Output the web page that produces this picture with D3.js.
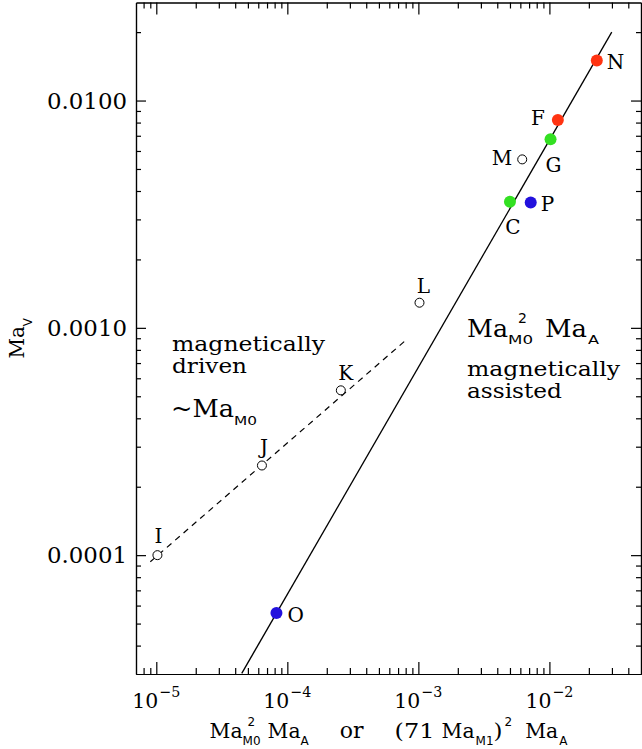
<!DOCTYPE html>
<html>
<head>
<meta charset="utf-8">
<script src="https://cdn.jsdelivr.net/npm/d3@7"></script>
<style>
  body { margin: 0; background: #fff; }
  svg { display: block; }
</style>
</head>
<body>
<svg width="642" height="749"></svg>
<script>
// point data
const names = ['N', 'F', 'G', 'M', 'C', 'P', 'L', 'K', 'J', 'I', 'O']
const xVals = [0.0230, 0.0116, 0.0102, 0.0062, 0.0050, 0.0072, 0.00102, 0.000256, 0.000064, 0.0000102, 0.0000826]
const yVals = [0.0150, 0.00822, 0.00676, 0.00551, 0.00359, 0.00356, 0.00129, 0.000531, 0.000248, 0.0001, 0.0000556]
const kinds = ['red', 'red', 'green', 'open', 'green', 'blue', 'open', 'open', 'open', 'open', 'blue']

// the two scaling lines
const solidX = [4.49e-5, 0.0299], solidY = [3.02e-5, 0.0200]
const dashX = [9.0e-6, 7.8e-4], dashY = [9.35e-5, 8.7e-4]

// ticks
const xMajor = [1e-5, 1e-4, 1e-3, 1e-2]
const xExps = ['\u22125', '\u22124', '\u22123', '\u22122']
const yMajor = [1e-4, 1e-3, 1e-2]
const yLabels = ['0.0001', '0.0010', '0.0100']

const svg = d3.select('svg')
const serif = 'DejaVu Serif', sans = 'DejaVu Sans'

const L = 136, R = 641, T = 2.5, B = 674
const x = d3.scaleLog().domain([7e-6, 0.05]).range([L, R])
const y = d3.scaleLog().domain([3e-5, 0.027]).range([B, T])

const fill = { red: '#ff3311', green: '#33e022', blue: '#2211dd', open: '#fff' }

const minors = dom => {
    const out = []
    for (let e = -7; e <= 0; e++)
        for (let k = 2; k <= 9; k++) {
            const v = k * Math.pow(10, e)
            if (v > dom[0] * 1.0001 && v < dom[1] * 0.9999) out.push(v)
        }
    return out
}
const xMinor = minors(x.domain()), yMinor = minors(y.domain())

// axes, ticks pointing in, on all four sides
const axis = (gen, tr, vals, len) => svg.append('g')
    .attr('transform', tr)
    .call(gen.tickValues(vals).tickSizeInner(len).tickSizeOuter(0).tickFormat(''))
    .call(g => g.selectAll('path,line').attr('stroke-width', 1.2))

axis(d3.axisBottom(x), `translate(0,${B})`, xMajor, -12)
axis(d3.axisBottom(x), `translate(0,${B})`, xMinor, -6)
axis(d3.axisTop(x), `translate(0,${T})`, xMajor, -12)
axis(d3.axisTop(x), `translate(0,${T})`, xMinor, -6)
axis(d3.axisLeft(y), `translate(${L},0)`, yMajor, -10)
axis(d3.axisLeft(y), `translate(${L},0)`, yMinor, -5)
axis(d3.axisRight(y), `translate(${R},0)`, yMajor, -10)
axis(d3.axisRight(y), `translate(${R},0)`, yMinor, -5)

// text made of pieces: sub/superscripts, stacked scripts
const rich = (g, x0, y0, parts) => {
    let cx = x0, prevStart = x0
    parts.forEach(p => {
        const t = g.append('text')
            .attr('y', y0 + (p.dy || 0))
            .style('font-family', p.font || serif)
            .style('font-size', p.size + 'px')
            .text(p.t)
        if (p.w) t.attr('textLength', p.w).attr('lengthAdjust', 'spacingAndGlyphs')
        const start = (p.over ? prevStart : cx) + (p.dx || 0)
        t.attr('x', start)
        const w = p.w || t.node().getComputedTextLength()
        if (p.over) cx = Math.max(cx, start + w)
        else { prevStart = start; cx = start + w }
    })
    return cx - x0
}
const centered = (parts, cx, cy, rotate) => {
    const g = svg.append('g')
    const inner = g.append('g')
    const w = rich(inner, 0, 0, parts)
    inner.attr('transform', `translate(${-w / 2},0)`)
    g.attr('transform', `translate(${cx},${cy})` + (rotate ? ` rotate(${rotate})` : ''))
}

// tick labels
xMajor.forEach((v, i) => centered([
    { t: '10', size: 20, w: 26 },
    { t: xExps[i], size: 15, dy: -11, dx: 1, w: 21 }
], x(v), 708))

svg.append('g').selectAll('text').data(yMajor).join('text')
    .attr('x', L - 9)
    .attr('y', d => y(d) + 8)
    .attr('text-anchor', 'end')
    .attr('textLength', 80).attr('lengthAdjust', 'spacingAndGlyphs')
    .style('font-family', serif)
    .style('font-size', '22px')
    .text((d, i) => yLabels[i])

// axis titles
centered([
    { t: 'Ma', size: 21, w: 33 },
    { t: 'M0', size: 12, font: sans, dy: 7 },
    { t: '2', size: 12, font: sans, dy: -12, dx: 5, over: true },
    { t: 'Ma', size: 21, dx: 7, w: 33 },
    { t: 'A', size: 12, font: sans, dy: 7 },
    { t: 'or', size: 22, dx: 31 },
    { t: '(71', size: 21, dx: 31, w: 40 },
    { t: 'Ma', size: 21, dx: 7, w: 33 },
    { t: 'M1', size: 12, font: sans, dy: 7, dx: 1 },
    { t: ')', size: 21, w: 9 },
    { t: '2', size: 12, font: sans, dy: -12, dx: 2 },
    { t: 'Ma', size: 21, dx: 13, w: 33 },
    { t: 'A', size: 12, font: sans, dy: 7, dx: 1 }
], (L + R) / 2, 738)

centered([
    { t: 'Ma', size: 20 },
    { t: 'V', size: 12, font: sans, dy: 8 }
], 24, (T + B) / 2, -90)

// scaling lines
const clip = svg.append('clipPath').attr('id', 'plot')
    .append('rect').attr('x', L).attr('y', T).attr('width', R - L).attr('height', B - T)
const line = d3.line().x(d => x(d[0])).y(d => y(d[1]))
svg.append('path')
    .attr('clip-path', 'url(#plot)')
    .attr('d', line(d3.zip(solidX, solidY)))
    .attr('fill', 'none').attr('stroke', '#000').attr('stroke-width', 1.3)
svg.append('path')
    .attr('d', line(d3.zip(dashX, dashY)))
    .attr('fill', 'none').attr('stroke', '#000').attr('stroke-width', 1.2)
    .attr('stroke-dasharray', '6,5')

// points
const pts = names.map((n, i) => ({ n, x: xVals[i], y: yVals[i], k: kinds[i] }))
svg.append('g').selectAll('circle').data(pts).join('circle')
    .attr('cx', d => x(d.x))
    .attr('cy', d => y(d.y))
    .attr('r', d => d.k === 'open' ? 4.5 : 6)
    .attr('fill', d => fill[d.k])
    .attr('stroke', d => d.k === 'open' ? '#000' : 'none')
    .attr('stroke-width', 1)

// label placement next to each point: [dx, dy, anchor]
const labelPos = {
    N: [10, 8, 'start'], F: [-13, 5, 'end'], G: [3, 33, 'middle'], M: [-10, 6, 'end'],
    C: [3, 32, 'middle'], P: [10, 8, 'start'], L: [4, -10, 'middle'], K: [5, -10, 'middle'],
    J: [2, -11, 'middle'], I: [1, -12, 'middle'], O: [11, 9, 'start']
}
svg.append('g').selectAll('text').data(pts).join('text')
    .attr('x', d => x(d.x) + labelPos[d.n][0])
    .attr('y', d => y(d.y) + labelPos[d.n][1])
    .attr('text-anchor', d => labelPos[d.n][2])
    .style('font-family', serif)
    .style('font-size', '20px')
    .text(d => d.n)

// annotations
const prose = (t, x0, y0, w) => svg.append('text')
    .attr('x', x0).attr('y', y0)
    .attr('textLength', w).attr('lengthAdjust', 'spacingAndGlyphs')
    .style('font-family', serif).style('font-size', '21px')
    .text(t)

prose('magnetically', 172, 351, 153)
prose('driven', 172, 373, 75)
rich(svg.append('g'), 171, 417, [
    { t: '~Ma', size: 25, w: 63 },
    { t: 'M0', size: 13, font: sans, dy: 8, w: 23 }
])

rich(svg.append('g'), 467, 337, [
    { t: 'Ma', size: 25, w: 41 },
    { t: 'M0', size: 12, font: sans, dy: 7, w: 25 },
    { t: '2', size: 14, font: sans, dy: -14, dx: 10, over: true },
    { t: 'Ma', size: 25, dx: 12, w: 42 },
    { t: 'A', size: 12, font: sans, dy: 7, dx: 1, w: 11 }
])
prose('magnetically', 467, 376, 153)
prose('assisted', 467, 398, 95)
</script>
</body>
</html>
